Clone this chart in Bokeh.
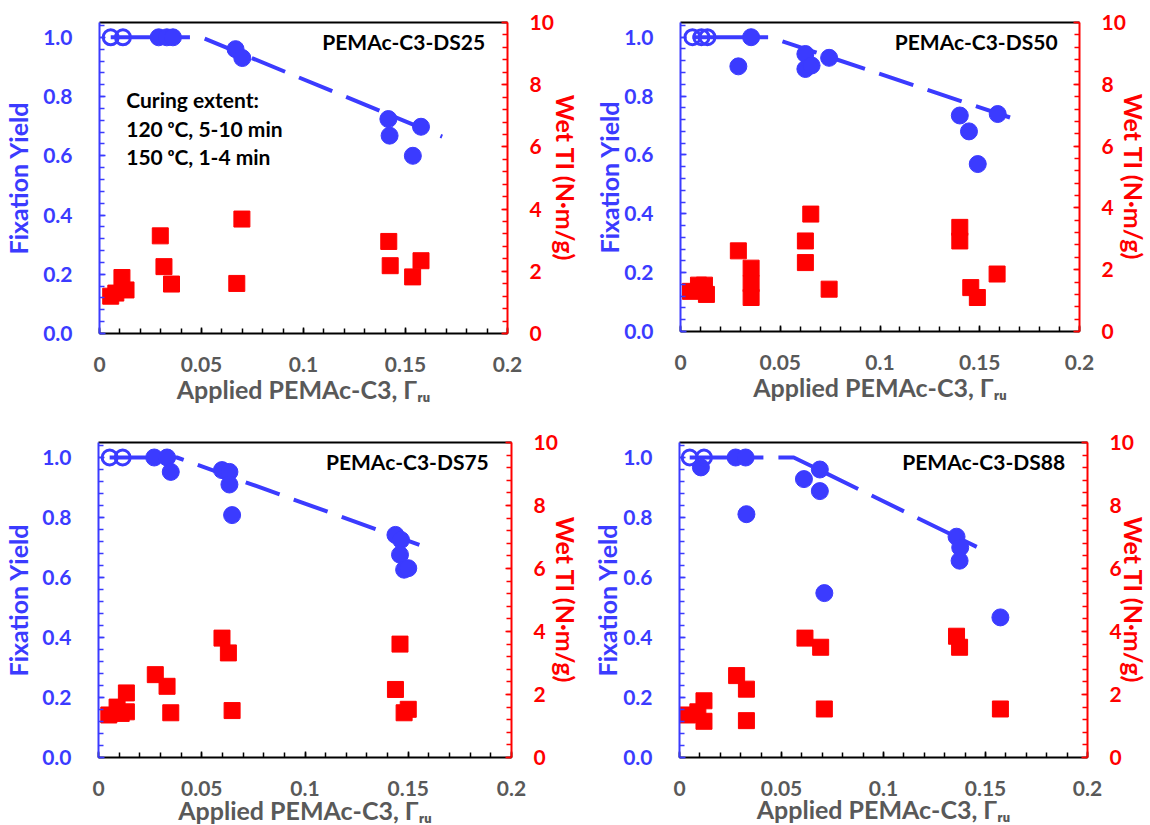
from bokeh.plotting import figure
from bokeh.layouts import row, column
from bokeh.models import (Range1d, LinearAxis, SingleIntervalTicker, FixedTicker,
                          NumeralTickFormatter, CustomJSTickFormatter, Label)
from bokeh.embed import file_html
from bokeh.resources import INLINE

BLUE = "#3b3bff"
RED = "#ff0000"
GRAY = "#595959"
FONT = "Lato"

X_TITLE = "Applied PEMAc-C3, \u0393\u1d63\u1d64"
Y_TITLE = "Fixation Yield"
Y2_TITLE = "Wet TI (N\u00b7m/g)"

# ---- PEMAc-C3-DS25 ----
ds25_open_x = [0.0055, 0.0115]
ds25_fy_x = [0.029, 0.033, 0.036, 0.0667, 0.070, 0.1416, 0.1422, 0.1576, 0.1536]
ds25_fy = [1.0, 1.0, 1.0, 0.96, 0.93, 0.724, 0.668, 0.698, 0.600]
ds25_ti_x = [0.0055, 0.008, 0.011, 0.013, 0.0298, 0.0316, 0.0353, 0.0673, 0.0698,
             0.1418, 0.1425, 0.1535, 0.1576]
ds25_ti = [1.2, 1.3, 1.8, 1.4, 3.14, 2.15, 1.59, 1.61, 3.68, 2.96, 2.18, 1.82, 2.34]
ds25_fit_x = [0.036, 0.050, 0.168]
ds25_fit_y = [1.0, 1.0, 0.665]

# ---- PEMAc-C3-DS50 ----
ds50_open_x = [0.006, 0.0105, 0.0135]
ds50_fy_x = [0.0354, 0.029, 0.0626, 0.0626, 0.0657, 0.0745, 0.140, 0.1446, 0.149, 0.159]
ds50_fy = [1.0, 0.901, 0.943, 0.892, 0.904, 0.930, 0.734, 0.680, 0.569, 0.739]
ds50_ti_x = [0.005, 0.009, 0.012, 0.013, 0.029, 0.0354, 0.0354, 0.0354, 0.0626, 0.0626,
             0.0653, 0.0745, 0.140, 0.140, 0.1455, 0.1488, 0.1587]
ds50_ti = [1.3, 1.5, 1.5, 1.2, 2.61, 2.05, 1.55, 1.1, 2.93, 2.23, 3.8, 1.37, 3.37, 2.93,
           1.42, 1.1, 1.86]
ds50_fit_x = [0.0354, 0.045, 0.1657]
ds50_fit_y = [1.0, 1.0, 0.726]

# ---- PEMAc-C3-DS75 ----
ds75_open_x = [0.0054, 0.0117]
ds75_fy_x = [0.027, 0.0332, 0.035, 0.0598, 0.0634, 0.0634, 0.0647, 0.1438, 0.1465,
             0.146, 0.148, 0.150]
ds75_fy = [1.0, 1.0, 0.952, 0.958, 0.952, 0.910, 0.808, 0.742, 0.725, 0.676, 0.626, 0.631]
ds75_ti_x = [0.005, 0.009, 0.011, 0.0135, 0.0135, 0.0275, 0.0332, 0.035, 0.0598, 0.0629,
             0.0647, 0.146, 0.1438, 0.148, 0.150]
ds75_ti = [1.35, 1.6, 1.4, 2.05, 1.45, 2.63, 2.26, 1.42, 3.79, 3.32, 1.49, 3.6, 2.16,
           1.42, 1.53]
ds75_fit_x = [0.0332, 0.038, 0.1554]
ds75_fit_y = [1.0, 1.0, 0.709]

# ---- PEMAc-C3-DS88 ----
ds88_open_x = [0.0050, 0.0120]
ds88_fy_x = [0.0105, 0.0275, 0.0324, 0.0328, 0.0610, 0.0688, 0.0688, 0.071, 0.1358,
             0.1376, 0.1373, 0.1573]
ds88_fy = [0.967, 1.0, 1.0, 0.811, 0.928, 0.960, 0.888, 0.548, 0.736, 0.70, 0.656, 0.467]
ds88_ti_x = [0.004, 0.009, 0.012, 0.012, 0.028, 0.0328, 0.0328, 0.0615, 0.0692, 0.071,
             0.1358, 0.1373, 0.1573]
ds88_ti = [1.35, 1.45, 1.8, 1.15, 2.6, 2.17, 1.17, 3.79, 3.5, 1.54, 3.85, 3.5, 1.54]
ds88_fit_x = [0.0328, 0.056, 0.1457]
ds88_fit_y = [1.0, 1.0, 0.702]

X_MAX, Y_MAX, Y2_MAX = 0.2, 1.05, 10

x_ticks_fmt = CustomJSTickFormatter(code="return Number(tick.toFixed(3)).toString();")


def style_axis(ax, color, label_color, standoff, title, title_standoff):
    ax.axis_line_color = color
    ax.axis_line_width = 2
    ax.major_tick_line_color = color
    ax.minor_tick_line_color = color
    ax.major_tick_line_width = 1.5
    ax.minor_tick_line_width = 1.5
    ax.major_tick_in = 6
    ax.major_tick_out = 0
    ax.minor_tick_in = 5
    ax.minor_tick_out = 0
    ax.major_label_standoff = standoff
    ax.major_label_text_font = FONT
    ax.major_label_text_font_style = "bold"
    ax.major_label_text_font_size = "21px"
    ax.major_label_text_color = label_color
    ax.axis_label = title
    ax.axis_label_text_font = FONT
    ax.axis_label_text_font_style = "bold"
    ax.axis_label_text_font_size = "25px"
    ax.axis_label_text_color = label_color
    ax.axis_label_standoff = title_standoff


def panel(name, open_x, fy_x, fy, ti_x, ti, fit_x, fit_y,
          fw, fh, bl, br, bt, bb, sl, sr, sb):
    p = figure(frame_width=fw, frame_height=fh,
               x_range=Range1d(0, X_MAX), y_range=Range1d(0, Y_MAX),
               min_border_left=bl, min_border_right=br,
               min_border_top=bt, min_border_bottom=bb,
               output_backend="svg", toolbar_location=None,
               background_fill_color="white", border_fill_color="white")
    p.outline_line_color = None
    p.xgrid.visible = False
    p.ygrid.visible = False
    p.extra_y_ranges = {"ti": Range1d(0, Y2_MAX)}

    xa = p.xaxis[0]
    xa.ticker = SingleIntervalTicker(interval=0.05, num_minor_ticks=5)
    xa.formatter = x_ticks_fmt
    style_axis(xa, "black", GRAY, 23, X_TITLE, sb)

    ya = p.yaxis[0]
    ya.ticker = SingleIntervalTicker(interval=0.2, num_minor_ticks=5)
    ya.formatter = NumeralTickFormatter(format="0.0")
    style_axis(ya, BLUE, BLUE, 27, Y_TITLE, sl)

    ra = LinearAxis(y_range_name="ti",
                    ticker=SingleIntervalTicker(interval=2, num_minor_ticks=5),
                    formatter=NumeralTickFormatter(format="0"))
    style_axis(ra, RED, RED, 22, Y2_TITLE, sr)
    p.add_layout(ra, "right")

    # top edge of the plot box
    top = LinearAxis(ticker=FixedTicker(ticks=[]), axis_line_color="black",
                     axis_line_width=2, major_tick_line_color=None,
                     minor_tick_line_color=None, major_label_text_font_size="0px")
    p.add_layout(top, "above")

    # full-yield points joined by a solid line, then the dashed trend
    full_x = sorted(open_x + [x for x, y in zip(fy_x, fy) if y >= 1.0])
    p.line(full_x, [1.0] * len(full_x), line_color=BLUE, line_width=4)
    p.line(fit_x, fit_y, line_color=BLUE, line_width=4,
           line_dash="36 15", line_dash_offset=19)

    p.scatter(ti_x, ti, y_range_name="ti", marker="square", size=16,
              fill_color=RED, line_color=RED)
    p.scatter(fy_x, fy, marker="circle", size=17, fill_color=BLUE, line_color=BLUE)
    p.scatter(open_x, [1.0] * len(open_x), marker="circle", size=15,
              fill_color=None, line_color=BLUE, line_width=3)

    p.add_layout(Label(x=0.189, y=0.987, text=name, text_align="right",
                       text_baseline="middle", text_font=FONT,
                       text_font_style="bold", text_font_size="21px",
                       text_color="black"))
    return p


p1 = panel("PEMAc-C3-DS25", ds25_open_x, ds25_fy_x, ds25_fy, ds25_ti_x, ds25_ti,
           ds25_fit_x, ds25_fit_y, 408, 311, 99, 78, 22, 77, 7, -6, -1)
p2 = panel("PEMAc-C3-DS50", ds50_open_x, ds50_fy_x, ds50_fy, ds50_ti_x, ds50_ti,
           ds50_fit_x, ds50_fit_y, 399, 309, 95, 71, 22, 79, -3, -10, -1)
p3 = panel("PEMAc-C3-DS75", ds75_open_x, ds75_fy_x, ds75_fy, ds75_ti_x, ds75_ti,
           ds75_fit_x, ds75_fit_y, 413, 315, 98, 74, 30, 70, 6, -10, -4)
p4 = panel("PEMAc-C3-DS88", ds88_open_x, ds88_fy_x, ds88_fy, ds88_ti_x, ds88_ti,
           ds88_fit_x, ds88_fit_y, 408, 315, 94, 63, 32, 68, -2, -18, -5)

curing_lines = ["Curing extent:", "120 \u1d52C, 5-10 min", "150 \u1d52C, 1-4 min"]
for txt, yy in zip(curing_lines, [0.790, 0.692, 0.597]):
    p1.add_layout(Label(x=0.0131, y=yy, text=txt, text_align="left",
                        text_baseline="middle", text_font=FONT,
                        text_font_style="bold", text_font_size="21px",
                        text_color="black"))

layout = column(row(p1, p2), row(p3, p4))

html = file_html(layout, INLINE)
html = html.replace("<head>", "<head><style>html, body {margin:0; overflow:hidden;}</style>", 1)
open("out.html", "w").write(html)
